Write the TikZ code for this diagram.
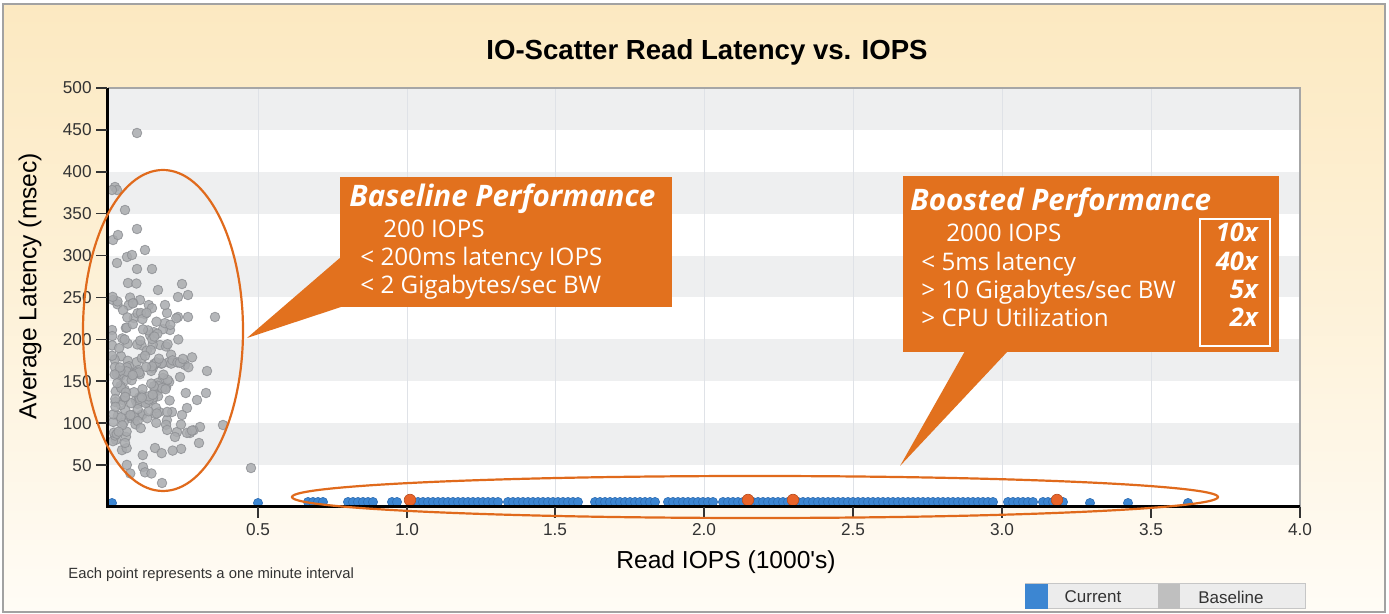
\documentclass[tikz,border=0pt]{standalone}
\usepackage{fontspec}
\setmainfont{Liberation Sans}
\newfontfamily\callfont{Open Sans}
\usetikzlibrary{calc}
\definecolor{callorange}{HTML}{E2711E}
\definecolor{ellorange}{HTML}{E06A1C}
\definecolor{bandgray}{HTML}{EEEFF0}
\definecolor{gridgray}{HTML}{DFE2E7}
\definecolor{dotgrayfill}{HTML}{A9ABAE}
\definecolor{dotgraydraw}{HTML}{8E9094}
\definecolor{dotblue}{HTML}{3C86D2}
\definecolor{dotbluedraw}{HTML}{2E6DB3}
\definecolor{dotorange}{HTML}{E8642A}
\definecolor{framegray}{HTML}{A2A2A2}
\definecolor{cream}{HTML}{FCE9C1}
\definecolor{creamlight}{HTML}{FFFCF6}
\definecolor{ticktext}{HTML}{333333}
\tikzset{
  gdot/.style={fill=dotgrayfill,draw=dotgraydraw,line width=0.4pt,opacity=0.85},
  bdot/.style={fill=dotblue,draw=dotbluedraw,line width=0.3pt},
  odot/.style={fill=dotorange,draw=dotorange!80!black,line width=0.3pt},
  callshape/.style={fill=callorange,draw=none},
  callhead/.style={font=\callfont\bfseries\itshape\fontsize{14.8}{17}\selectfont,text=white,inner sep=0pt,anchor=base west},
  callbody/.style={font=\callfont\fontsize{12.1}{14}\selectfont,text=white,inner sep=0pt,anchor=base west},
  callmult/.style={font=\callfont\bfseries\itshape\fontsize{12.8}{14}\selectfont,text=white,inner sep=0pt,anchor=base east},
  ticklab/.style={font=\fontsize{8.6}{10}\selectfont,text=ticktext,inner sep=0pt},
  axisline/.style={line width=1.5pt,black},
  tickline/.style={line width=0.8pt,black!80},
  ellline/.style={draw=ellorange,line width=1.1pt},
}
\begin{document}
\begin{tikzpicture}[x=0.5pt,y=-0.5pt]
\useasboundingbox (0,0) rectangle (1389,614);
% frame background
\shade[top color=cream,bottom color=creamlight,middle color=cream!55!creamlight] (3,4) rectangle (1385,612);
\draw[framegray,line width=1pt] (3,4) rectangle (1385,612);
% title
\node[font=\bfseries\fontsize{13.8}{16}\selectfont,anchor=base,inner sep=0pt] (title) at (707,60) {IO-Scatter Read Latency vs. IOPS};
% plot area
\fill[white] (108,88) rectangle (1300,507);
\foreach \t in {450,350,250,150,50}{
  \fill[bandgray] (108,{507-0.838*(\t+50)}) rectangle (1300,{507-0.838*\t});
}
\foreach \gx in {258,407,555,704,853,1002,1151}{
  \draw[gridgray,line width=0.5pt] (\gx,88) -- (\gx,507);
}
\draw[gray!70,line width=0.6pt] (108,88) -- (1300,88) -- (1300,507);
% baseline gray points (explicit)
\foreach \px/\py in {137/133,115/187,117/190,125/210,137/229,113/240,118/235,127/257,132/255,117/263,137/269,152/269,128/283,182/284,178/297,188/295,215/317,188/317,178/317,167/313,207/371,185/365,180/377,163/378,206/393,197/400,187/408,182/415,172/412,223/425,200/427,190/433,177/432,175/437,199/443,155/448,143/467,162/483,251/468,112/330,113/300,140/300,165/305,160/345,170/330,150/335,158/290,145/250,112/190}{
  \fill[gdot] (\px,\py) circle[radius=2.4pt];
}
% baseline gray points (cluster)
\pgfmathsetseed{4271}
\foreach \i in {1,...,190}{
  \pgfmathsetmacro\px{112+44*abs(rand+rand)}
  \pgfmathsetmacro\lat{max(40,150+48*(rand+rand+rand))}
  \pgfmathsetmacro\py{507-0.838*\lat}
  \fill[gdot] (\px,\py) circle[radius=2.4pt];
}
% current blue points along bottom
\foreach \a/\b in {308/325,348/377,392/400,413/502,508/582,595/655,668/717,723/997,1008/1033,1043/1063}{
  \pgfmathtruncatemacro\c{\a+5}
  \foreach \x in {\a,\c,...,\b}{
    \fill[bdot] (\x,502) circle[radius=2.3pt];
  }
}
\foreach \x in {112,258,1090,1128,1188}{
  \fill[bdot] (\x,503) circle[radius=2.3pt];
}
\foreach \x in {410,748,793,1057}{
  \fill[odot] (\x,500) circle[radius=2.9pt];
}
% axes
\draw[axisline] (107,88) -- (107,507) -- (1300,507);
\foreach \t in {50,100,...,500}{
  \draw[tickline] (96,{507-0.838*\t}) -- (107,{507-0.838*\t});
  \node[ticklab,anchor=east] (yl\t) at (92,{507-0.838*\t}) {\t};
}
\foreach \gx/\lab in {258/0.5,407/1.0,555/1.5,704/2.0,853/2.5,1002/3.0,1151/3.5,1300/4.0}{
  \draw[tickline] (\gx,507) -- (\gx,518);
  \node[ticklab] (xl\gx) at (\gx,530) {\lab};
}
\node[font=\fontsize{12.3}{14}\selectfont,inner sep=0pt] (xlabel) at (726,562) {Read IOPS (1000\textquotesingle s)};
\node[font=\fontsize{12.3}{14}\selectfont,inner sep=0pt,rotate=90] (ylabel) at (30,286) {Average Latency (msec)};
\node[font=\fontsize{7.4}{9}\selectfont,text=ticktext,anchor=west,inner sep=0pt] (note) at (68,575) {Each point represents a one minute interval};
% ellipses
\draw[ellline] (163,330.5) ellipse[x radius=40pt,y radius=80.25pt];
\draw[ellline] (755,497) ellipse[x radius=231.5pt,y radius=10.5pt];
% baseline callout
\fill[callshape] (340,177) rectangle (672,307);
\fill[callshape] (341,257) -- (247,338) -- (341,307) -- cycle;
\node[callhead] (bh) at (349,207) {Baseline Performance};
\node[callbody] (b1) at (383,238) {200 IOPS};
\node[callbody] (b2) at (360,266) {< 200ms latency IOPS};
\node[callbody] (b3) at (360,294) {< 2 Gigabytes/sec BW};
% boosted callout
\fill[callshape] (903,176) rectangle (1279,352);
\fill[callshape] (965,351) -- (900,466) -- (1008,351) -- cycle;
\node[callhead] (oh) at (910,211) {Boosted Performance};
\node[callbody] (o1) at (946,242) {2000 IOPS};
\node[callbody] (o2) at (921,271) {< 5ms latency};
\node[callbody] (o3) at (921,299) {> 10 Gigabytes/sec BW};
\node[callbody] (o4) at (921,327) {> CPU Utilization};
\draw[white,line width=0.9pt] (1200,219) rectangle (1270,346);
\node[callmult] (m1) at (1258,242) {10x};
\node[callmult] (m2) at (1258,271) {40x};
\node[callmult] (m3) at (1258,299) {5x};
\node[callmult] (m4) at (1258,327) {2x};
% legend
\fill[gray!15] (1025,584) rectangle (1305,609);
\draw[gray!45,line width=0.5pt] (1025,584) rectangle (1305,609);
\fill[dotblue] (1025,584) rectangle (1048,609);
\fill[gray!50] (1158,584) rectangle (1180,609);
\node[font=\fontsize{8.5}{10}\selectfont,text=ticktext,inner sep=0pt] (lgc) at (1093,597) {Current};
\node[font=\fontsize{8.5}{10}\selectfont,text=ticktext,inner sep=0pt] (lgb) at (1231,597) {Baseline};
\end{tikzpicture}
\end{document}
